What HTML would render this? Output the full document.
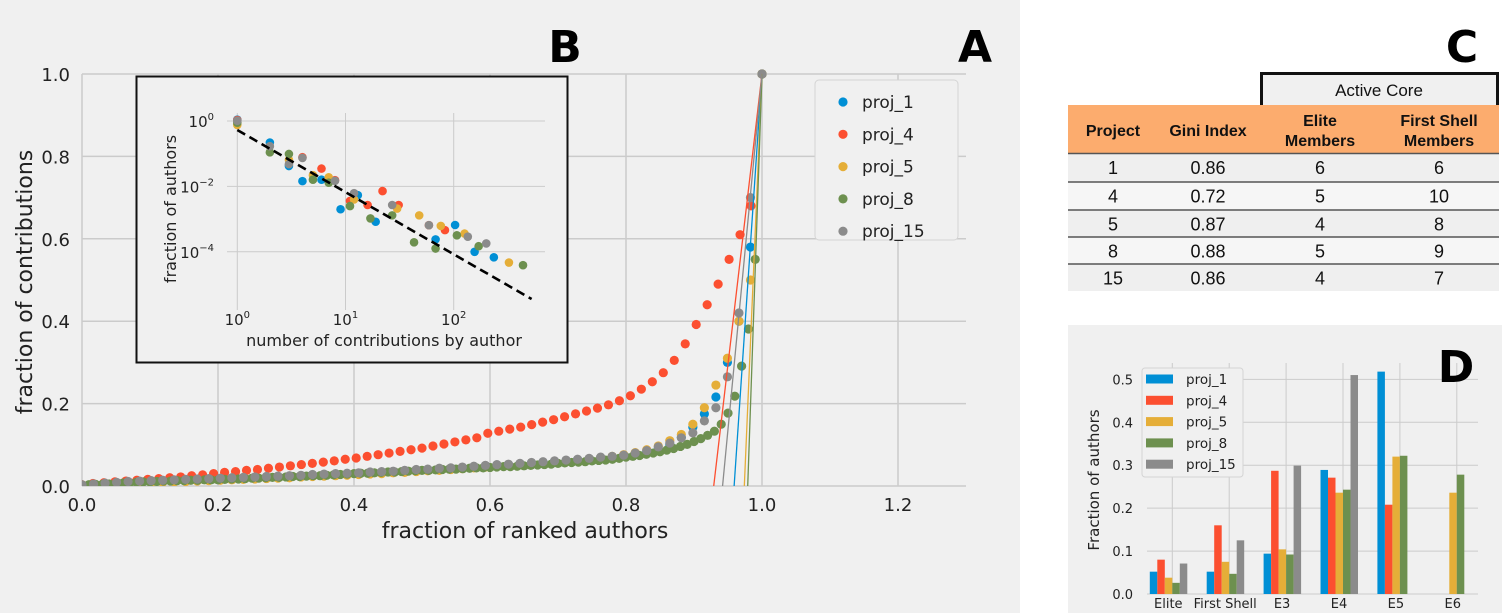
<!DOCTYPE html>
<html><head><meta charset="utf-8"><style>
body{margin:0;width:1502px;height:613px;overflow:hidden;background:#fff;font-family:"DejaVu Sans","Liberation Sans",sans-serif}
svg{display:block}
</style></head><body>
<svg id="fig" width="1502" height="613" xmlns="http://www.w3.org/2000/svg">
<rect x="0" y="0" width="1020" height="613" fill="#f0f0f0"/>
<g id="main"></g>
<g id="inset"></g>
<g id="table" font-family="Liberation Sans, sans-serif"></g>
<g id="bars"></g>
</svg>
<script>
const NS='http://www.w3.org/2000/svg';
const projects=['proj_1','proj_4','proj_5','proj_8','proj_15'];
const colors=['#008fd5','#fc4f30','#e5ae38','#6d904f','#8b8b8b'];
// Lorenz data (y at evenly spaced rank fractions)
const lorenzBlue=[.002,.004,.006,.008,.010,.011,.012,.013,.014,.015,.016,.017,.018,.019,.020,.021,.022,.023,.024,.025,.027,.028,.029,.030,.031,.033,.034,.035,.037,.039,.040,.042,.043,.045,.047,.049,.051,.052,.054,.056,.058,.060,.062,.064,.066,.069,.071,.074,.078,.083,.090,.100,.118,.143,.175,.216,.30,.40,.58,1.0];
const lorenzRed=[.003,.006,.008,.010,.012,.014,.016,.018,.020,.022,.025,.027,.030,.033,.035,.038,.040,.043,.046,.049,.052,.055,.058,.061,.065,.068,.072,.076,.080,.084,.088,.092,.097,.102,.107,.112,.117,.128,.133,.138,.143,.149,.155,.161,.168,.175,.182,.189,.197,.207,.219,.235,.253,.275,.305,.345,.392,.44,.49,.55,.61,.68,1.0];
const lorenzYellow=[.001,.002,.003,.005,.006,.007,.008,.009,.010,.011,.012,.013,.014,.015,.016,.017,.018,.019,.020,.022,.023,.024,.025,.026,.028,.029,.030,.032,.033,.035,.037,.038,.040,.042,.044,.046,.048,.050,.052,.054,.056,.058,.060,.063,.066,.069,.072,.076,.081,.088,.097,.110,.125,.150,.19,.245,.31,.40,.50,1.0];
const lorenzGreen=[.002,.003,.004,.004,.005,.006,.007,.008,.009,.010,.010,.011,.012,.012,.013,.013,.014,.014,.015,.015,.015,.016,.017,.017,.018,.019,.019,.020,.021,.021,.022,.023,.023,.024,.025,.025,.026,.027,.028,.029,.030,.031,.031,.032,.033,.034,.034,.035,.036,.037,.038,.038,.039,.040,.041,.041,.042,.043,.044,.044,.045,.046,.047,.047,.048,.049,.050,.051,.052,.053,.055,.056,.057,.058,.059,.061,.062,.063,.065,.067,.070,.072,.074,.077,.080,.083,.087,.091,.096,.101,.108,.115,.123,.133,.150,.177,.218,.291,.381,.55,1.0];
const lorenzGray=[.003,.005,.007,.009,.011,.012,.013,.014,.015,.016,.017,.018,.019,.020,.021,.022,.023,.024,.025,.026,.028,.029,.030,.031,.032,.034,.035,.036,.038,.040,.041,.043,.044,.046,.048,.050,.052,.053,.055,.057,.059,.061,.063,.065,.067,.070,.072,.075,.080,.086,.095,.104,.117,.129,.158,.19,.265,.42,.70,1.0];
const lorenzSeries=[lorenzBlue,lorenzRed,lorenzYellow,lorenzGreen,lorenzGray];
const fitLineX0=[0.959,0.929,0.974,0.979,0.942];
const mainXTicks=[0,0.2,0.4,0.6,0.8,1.0,1.2];
const mainYTicks=[0,0.2,0.4,0.6,0.8,1.0];
// Inset data
const insetBlueX=[1,2,3,4,6,13,9,19,68,103,156,235];
const insetBlueY=[1.1,0.22,0.042,0.0145,0.016,0.0054,0.002,0.00083,0.00024,0.00066,0.0001,0.000068];
const insetRedX=[1,4,6,8,11,16,22,31,59,83];
const insetRedY=[1.07,0.078,0.035,0.0155,0.0036,0.0027,0.0072,0.0027,0.00065,0.00046];
const insetYellowX=[1,3,5,7,12,30,48,76,126,324];
const insetYellowY=[0.76,0.065,0.022,0.019,0.004,0.0021,0.0013,0.00062,0.00036,0.000047];
const insetGreenX=[1,2,3,5,7,11,17,27,43,68,107,170,437];
const insetGreenY=[0.89,0.11,0.098,0.016,0.013,0.0025,0.00105,0.0013,0.000195,0.000126,0.00032,0.000148,0.000039];
const insetGrayX=[1,2,3,4,8,12,27,59,135,200];
const insetGrayY=[1.02,0.17,0.048,0.074,0.0148,0.0062,0.0027,0.00065,0.00029,0.00018];
const insetXs=[insetBlueX,insetRedX,insetYellowX,insetGreenX,insetGrayX];
const insetYs=[insetBlueY,insetRedY,insetYellowY,insetGreenY,insetGrayY];
const fitCoef=0.53, fitExp=-1.9, fitXRange=[1,525];
// Panel D
const barCategories=['Elite','First Shell','E3','E4','E5','E6'];
const barBlue=[.052,.052,.094,.289,.518,0];
const barRed=[.08,.16,.287,.271,.208,0];
const barYellow=[.038,.075,.104,.236,.32,.236];
const barGreen=[.026,.047,.092,.243,.322,.278];
const barGray=[.071,.125,.299,.51,0,0];
const barSeries=[barBlue,barRed,barYellow,barGreen,barGray];
const barYTicks=[0,0.1,0.2,0.3,0.4,0.5];
// Table
const tableProjects=['1','4','5','8','15'];
const tableGini=['0.86','0.72','0.87','0.88','0.86'];
const tableElite=['6','5','4','5','4'];
const tableShell=['6','10','8','9','7'];

function el(tag,attrs,parent,text){const e=document.createElementNS(NS,tag);for(const k in attrs)e.setAttribute(k,attrs[k]);if(text!==undefined)e.textContent=text;parent.appendChild(e);return e;}

// ---- Panel A ----
const gA=document.getElementById('main');
const ax=v=>82+v*680, ay=v=>486-v*412;
const PL=82,PR=966,PT=74,PB=486;
mainXTicks.forEach(t=>{const l=el('line',{x1:ax(t),x2:ax(t),y1:PT,y2:PB,stroke:'#cbcbcb','stroke-width':1.5},gA);
 const tx=el('text',{x:ax(t),y:PB+25,'text-anchor':'middle','font-size':18,fill:'#222'},gA,t.toFixed(1));});
mainYTicks.forEach(t=>{const l=el('line',{x1:PL,x2:PR,y1:ay(t),y2:ay(t),stroke:'#cbcbcb','stroke-width':1.5},gA);
 const tx=el('text',{x:70,y:ay(t)+7,'text-anchor':'end','font-size':18,fill:'#222'},gA,t.toFixed(1));});
const clip=el('clipPath',{id:'clipA'},gA);el('rect',{x:PL,y:PT-6,width:PR-PL,height:PB-PT+6},clip);
const plotA=el('g',{'clip-path':'url(#clipA)'},gA);
lorenzSeries.forEach((s,k)=>{
 s.forEach((v,i)=>{const c=el('circle',{cx:ax(i/(s.length-1)),cy:ay(v),r:4.6,fill:colors[k]},plotA);});
});
lorenzSeries.forEach((s,k)=>{const l=el('line',{x1:ax(fitLineX0[k]),y1:ay(0),x2:ax(1.0),y2:ay(1.0),stroke:colors[k],'stroke-width':1.3},plotA);});
let t;
t=el('text',{x:525,y:538,'text-anchor':'middle','font-size':22,fill:'#222'},gA,'fraction of ranked authors');
t=el('text',{x:0,y:0,transform:'translate(32,282) rotate(-90)','text-anchor':'middle','font-size':22,fill:'#222'},gA,'fraction of contributions');
t=el('text',{x:975,y:62,'text-anchor':'middle','font-size':44,'font-weight':'bold',fill:'#000'},gA,'A');
t=el('text',{x:565,y:62,'text-anchor':'middle','font-size':44,'font-weight':'bold',fill:'#000'},gA,'B');
const lg=el('g',{},gA);
el('rect',{x:815,y:80,width:143,height:160,rx:4,fill:'#f0f0f0',stroke:'#d4d4d4'},lg);
projects.forEach((p,k)=>{const y=102+32.3*k;const g=el('g',{},lg);
 el('circle',{cx:843,cy:y,r:4.6,fill:colors[k]},g);el('text',{x:862,y:y+6,'font-size':17,fill:'#222'},g,p);});

// ---- Panel B inset ----
const gB=document.getElementById('inset');
const bx=v=>237.3+Math.log10(v)*108.2, by=v=>121-Math.log10(v)*32.7;
const IL=227,IR=545,IT=113,IB=310;
let r=el('rect',{x:136.5,y:76.5,width:431,height:286,fill:'#f0f0f0',stroke:'#111','stroke-width':2},gB);
[0,1,2].forEach(d=>{const v=Math.pow(10,d);const l=el('line',{x1:bx(v),x2:bx(v),y1:IT,y2:IB,stroke:'#cbcbcb','stroke-width':1},gB);
 const tx=el('text',{x:bx(v),y:325,'text-anchor':'middle','font-size':15,fill:'#222'},gB);
 tx.appendChild(document.createTextNode('10'));el('tspan',{dy:-7,'font-size':10},tx,String(d));});
[0,-2,-4].forEach(d=>{const v=Math.pow(10,d);const l=el('line',{x1:IL,x2:IR,y1:by(v),y2:by(v),stroke:'#cbcbcb','stroke-width':1},gB);
 const tx=el('text',{x:214,y:by(v)+6,'text-anchor':'end','font-size':15,fill:'#222'},gB);
 tx.appendChild(document.createTextNode('10'));el('tspan',{dy:-7,'font-size':10},tx,d===0?'0':'\u2212'+(-d));});
insetXs.forEach((xs,k)=>{xs.forEach((x,i)=>{const c=el('circle',{cx:bx(x),cy:by(insetYs[k][i]),r:4.3,fill:colors[k]},gB);});});
const fl=el('line',{x1:bx(fitXRange[0]),y1:by(fitCoef*Math.pow(fitXRange[0],fitExp)),x2:bx(fitXRange[1]),y2:by(fitCoef*Math.pow(fitXRange[1],fitExp)),stroke:'#000','stroke-width':2.6,'stroke-dasharray':'9,5'},gB);

t=el('text',{x:384,y:346,'text-anchor':'middle','font-size':16,fill:'#222'},gB,'number of contributions by author');
t=el('text',{x:0,y:0,transform:'translate(176,209) rotate(-90)','text-anchor':'middle','font-size':16,fill:'#222'},gB,'fraction of authors');

// ---- Panel C table ----
const gC=document.getElementById('table');
t=el('text',{x:1462,y:62,'text-anchor':'middle','font-size':44,'font-weight':'bold',fill:'#000','font-family':'DejaVu Sans, sans-serif'},gC,'C');
r=el('rect',{x:1261,y:73,width:236,height:34,fill:'#f0f0f0'},gC);
el('path',{d:'M1261.5 106 V73.5 H1497.5 V106',fill:'none',stroke:'#111','stroke-width':3},gC);
t=el('text',{x:1379,y:96,'text-anchor':'middle','font-size':17,fill:'#111'},gC,'Active Core');
r=el('rect',{x:1068,y:105,width:431,height:48,fill:'#fcac6e'},gC);
const colX=[1113,1208,1320,1439];
[['Project'],['Gini Index'],['Elite','Members'],['First Shell','Members']].forEach((h,i)=>{
 const tx=el('text',{x:colX[i],'text-anchor':'middle','font-size':16,'font-weight':'bold',fill:'#111'},gC);
 if(h.length===1){tx.setAttribute('y',136);tx.textContent=h[0];}else{tx.setAttribute('y',126);el('tspan',{x:colX[i],dy:0},tx,h[0]);el('tspan',{x:colX[i],dy:20},tx,h[1]);}
});
const rowY=[153,181.5,209.5,236.5,263.5,291];
tableProjects.forEach((p,i)=>{
 const g=el('g',{},gC);
 el('rect',{x:1068,y:rowY[i],width:431,height:rowY[i+1]-rowY[i],fill:i%2?'#f6f6f6':'#efefef'},g);
 el('line',{x1:1068,x2:1499,y1:rowY[i]+0.5,y2:rowY[i]+0.5,stroke:'#555','stroke-width':1.5},g);
 [p,tableGini[i],tableElite[i],tableShell[i]].forEach((v,j)=>el('text',{x:colX[j],y:rowY[i]+21,'text-anchor':'middle','font-size':18,fill:'#111'},g,v));
});

// ---- Panel D ----
const gD=document.getElementById('bars');
r=el('rect',{x:1068,y:325,width:434,height:288,fill:'#f0f0f0'},gD);
const dTick=i=>1172.3+i*56.9, dy=v=>594-v*429.3, bw=7.5;
const DL=1147,DR=1478,DT=363;
barCategories.forEach((c,i)=>{const l=el('line',{x1:dTick(i),x2:dTick(i),y1:DT,y2:594,stroke:'#cbcbcb','stroke-width':1},gD);
 const tx=el('text',{x:dTick(i)-4,y:608,'text-anchor':'middle','font-size':13,fill:'#222'},gD,c);});
barYTicks.forEach(v=>{const l=el('line',{x1:DL,x2:DR,y1:dy(v),y2:dy(v),stroke:'#cbcbcb','stroke-width':1},gD);
 const tx=el('text',{x:1133,y:dy(v)+5,'text-anchor':'end','font-size':13,fill:'#222'},gD,v.toFixed(1));});
barSeries.forEach((s,k)=>{s.forEach((v,i)=>{if(v<=0)return;const b=el('rect',{x:dTick(i)+(k-3)*bw,y:dy(v),width:bw,height:dy(0)-dy(v),fill:colors[k]},gD);});});
t=el('text',{x:0,y:0,transform:'translate(1099,480) rotate(-90)','text-anchor':'middle','font-size':15,fill:'#222'},gD,'Fraction of authors');
t=el('text',{x:1456,y:382,'text-anchor':'middle','font-size':44,'font-weight':'bold',fill:'#000'},gD,'D');
const dl=el('g',{},gD);
el('rect',{x:1142,y:368,width:101,height:109,rx:3,fill:'#f0f0f0',stroke:'#d4d4d4'},dl);
projects.forEach((p,k)=>{const y=379+21.3*k;const g=el('g',{},dl);
 el('rect',{x:1146,y:y-4.5,width:27,height:9,fill:colors[k]},g);el('text',{x:1186,y:y+5,'font-size':13.5,fill:'#222'},g,p);});
</script>
</body></html>
